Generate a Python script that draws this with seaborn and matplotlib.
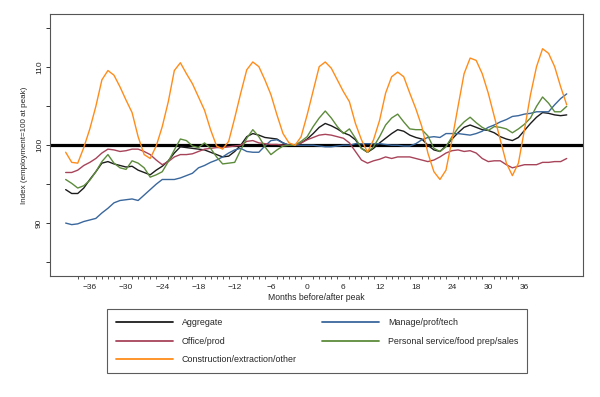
import numpy as np
import pandas as pd
import matplotlib
matplotlib.use("Agg")
import matplotlib.pyplot as plt
from matplotlib.ticker import FixedLocator
import seaborn as sns

# months relative to the employment peak
months = np.arange(-40, 44)

aggregate = [
    94.3, 93.8, 93.8, 94.5, 95.6, 96.6, 97.7, 97.9, 97.6, 97.4,
    97.2, 97.3, 96.8, 96.5, 96.2, 96.8, 97.3, 98.0, 99.0, 99.8,
    99.7, 99.6, 99.5, 99.4, 99.1, 98.8, 98.5, 98.6, 99.2, 100.0,
    101.1, 101.5, 101.3, 101.0, 100.9, 100.8, 100.3, 100.0, 100.0, 100.3,
    100.8, 101.5, 102.3, 102.8, 102.5, 102.1, 101.6, 101.3, 100.7, 99.6,
    99.1, 99.6, 100.3, 100.9, 101.5, 102.0, 101.8, 101.3, 101.0, 100.8,
    100.0, 99.4, 99.2, 99.9, 100.8, 101.6, 102.3, 102.6, 102.3, 102.0,
    101.9, 101.6, 101.1, 100.8, 100.6, 101.0, 101.9, 102.8, 103.6, 104.2,
    104.1, 103.9, 103.8, 103.9,
]
manage = [
    90.0, 89.8, 89.9, 90.2, 90.4, 90.6, 91.3, 91.9, 92.6, 92.9,
    93.0, 93.1, 92.9, 93.6, 94.3, 95.0, 95.6, 95.6, 95.6, 95.8,
    96.1, 96.4, 97.1, 97.4, 97.8, 98.1, 98.5, 99.0, 99.4, 99.6,
    99.2, 99.1, 99.1, 99.9, 100.6, 100.7, 100.3, 100.0, 100.0, 100.0,
    100.0, 100.0, 99.9, 99.8, 99.8, 99.9, 100.0, 100.0, 100.2, 100.2,
    100.2, 100.2, 100.2, 100.1, 100.0, 100.0, 99.9, 99.9, 100.2, 100.7,
    101.0, 101.1, 101.0, 101.5, 101.5, 101.5, 101.4, 101.3, 101.5, 101.8,
    102.3, 102.6, 103.0, 103.3, 103.7, 103.8, 104.0, 104.1, 104.3, 104.3,
    104.3, 105.2, 106.0, 106.6,
]
office = [
    96.5, 96.5, 96.8, 97.4, 97.8, 98.3, 99.0, 99.5, 99.4, 99.2,
    99.3, 99.5, 99.5, 99.2, 98.8, 98.1, 97.5, 97.9, 98.5, 98.8,
    98.8, 98.9, 99.2, 99.5, 99.6, 99.7, 99.7, 99.8, 99.9, 100.0,
    100.5, 100.6, 100.3, 100.2, 100.1, 100.1, 100.0, 100.0, 100.0, 100.3,
    100.7, 101.0, 101.3, 101.4, 101.3, 101.1, 100.9, 100.3, 99.2, 98.1,
    97.7, 98.0, 98.2, 98.5, 98.3, 98.5, 98.5, 98.5, 98.3, 98.1,
    97.9, 98.1, 98.5, 99.0, 99.3, 99.4, 99.2, 99.3, 99.0, 98.3,
    97.9, 98.0, 98.0, 97.5, 97.1, 97.3, 97.5, 97.5, 97.5, 97.8,
    97.8, 97.9, 97.9, 98.3,
]
personal = [
    95.6, 95.1, 94.5, 94.8, 95.5, 96.6, 97.9, 98.8, 97.7, 97.1,
    96.9, 98.0, 97.7, 97.1, 95.9, 96.2, 96.6, 97.9, 99.4, 100.8,
    100.6, 99.9, 99.7, 100.3, 99.6, 98.5, 97.6, 97.7, 97.8, 99.4,
    100.9, 102.0, 101.1, 99.8, 98.8, 99.4, 99.9, 100.0, 100.0, 100.5,
    101.1, 102.4, 103.5, 104.4, 103.5, 102.4, 101.5, 102.1, 100.9, 99.6,
    99.1, 99.8, 101.1, 102.6, 103.5, 104.0, 103.0, 102.1, 102.0, 102.0,
    101.2, 99.6, 99.2, 99.8, 101.1, 102.2, 103.0, 103.6, 102.9, 102.3,
    101.9, 102.4, 102.3, 102.1, 101.6, 102.1, 102.7, 103.5, 105.0, 106.2,
    105.4, 104.3, 104.3, 105.0,
]
construction = [
    99.1, 97.8, 97.7, 99.7, 102.1, 105.0, 108.4, 109.6, 109.0, 107.5,
    105.8, 104.2, 101.1, 98.8, 98.3, 99.9, 102.4, 105.6, 109.6, 110.6,
    109.2, 107.9, 106.2, 104.5, 102.0, 99.9, 99.5, 100.5, 103.5, 106.7,
    109.7, 110.7, 110.1, 108.4, 106.5, 103.9, 101.5, 100.3, 100.0, 101.1,
    103.9, 107.0, 110.1, 110.7, 109.9, 108.4, 106.9, 105.6, 102.8, 100.7,
    99.1, 100.7, 103.2, 106.7, 108.8, 109.4, 108.8, 106.7, 104.7, 102.4,
    99.0, 96.6, 95.6, 96.8, 100.7, 105.0, 109.2, 111.2, 110.9, 109.2,
    106.7, 103.7, 100.7, 97.7, 96.1, 97.7, 102.0, 106.5, 110.1, 112.4,
    111.8, 110.1, 107.5, 105.2,
]

series_names = ["Aggregate", "Manage/prof/tech", "Office/prod",
                "Personal service/food prep/sales", "Construction/extraction/other"]
colors = ["#1c1c1c", "#3a679c", "#a8445a", "#5d8b3c", "#ff8c1a"]

df = pd.DataFrame({
    "month": np.tile(months, 5),
    "index": np.concatenate([aggregate, manage, office, personal, construction]),
    "series": np.repeat(series_names, len(months)),
})

sns.set_style("white")
plt.rcParams["font.family"] = ["Liberation Sans", "DejaVu Sans"]

fig = plt.figure(figsize=(6, 3.97), dpi=100)
ax = fig.add_axes([0.0833, 0.3048, 0.8884, 0.6587])

ax.axhline(100, color="black", lw=2.3, zorder=1)
sns.lineplot(data=df, x="month", y="index", hue="series", hue_order=series_names,
             palette=colors, linewidth=1.0, ax=ax, zorder=2)

ax.set_xlim(-42.6, 45.7)
ax.set_ylim(83.2, 116.8)

ax.xaxis.set_major_locator(FixedLocator(np.arange(-36, 37, 6)))
ax.xaxis.set_minor_locator(FixedLocator(np.arange(-38, 37, 1)))
ax.yaxis.set_major_locator(FixedLocator([90, 100, 110]))
ax.yaxis.set_minor_locator(FixedLocator([85, 95, 105, 115]))
ax.tick_params(axis="x", which="major", length=4, width=0.7, labelsize=6, pad=2, color="#333333")
ax.tick_params(axis="x", which="minor", length=2, width=0.6, color="#333333", bottom=True)
ax.tick_params(axis="y", which="both", length=3, width=0.7, labelsize=6, pad=2, color="#333333", left=True)
for lab in ax.get_yticklabels():
    lab.set_rotation(90)
    lab.set_va("center")

for sp in ax.spines.values():
    sp.set_color("#555555")
    sp.set_linewidth(0.8)

ax.set_xlabel("Months before/after peak", fontsize=6.2, labelpad=1)
ax.set_ylabel("Index (employment=100 at peak)", fontsize=5.8, labelpad=6)

handles, labels = ax.get_legend_handles_labels()
ax.get_legend().remove()
lookup = dict(zip(labels, handles))
order = ["Aggregate", "Office/prod", "Construction/extraction/other",
         "Manage/prof/tech", "Personal service/food prep/sales"]
leg = fig.legend([lookup[k] for k in order], order, ncol=2,
                 loc="upper left", bbox_to_anchor=(107 / 600, 1 - 309 / 397),
                 borderaxespad=0, fontsize=6.4, handlelength=6.4, handletextpad=1.0,
                 columnspacing=2.9, labelspacing=1.1, borderpad=1.0,
                 fancybox=False, frameon=True)
leg.get_frame().set_edgecolor("#333333")
leg.get_frame().set_linewidth(0.8)
for h in leg.get_lines():
    h.set_linewidth(1.3)

fig.savefig("out.png", dpi=100)
